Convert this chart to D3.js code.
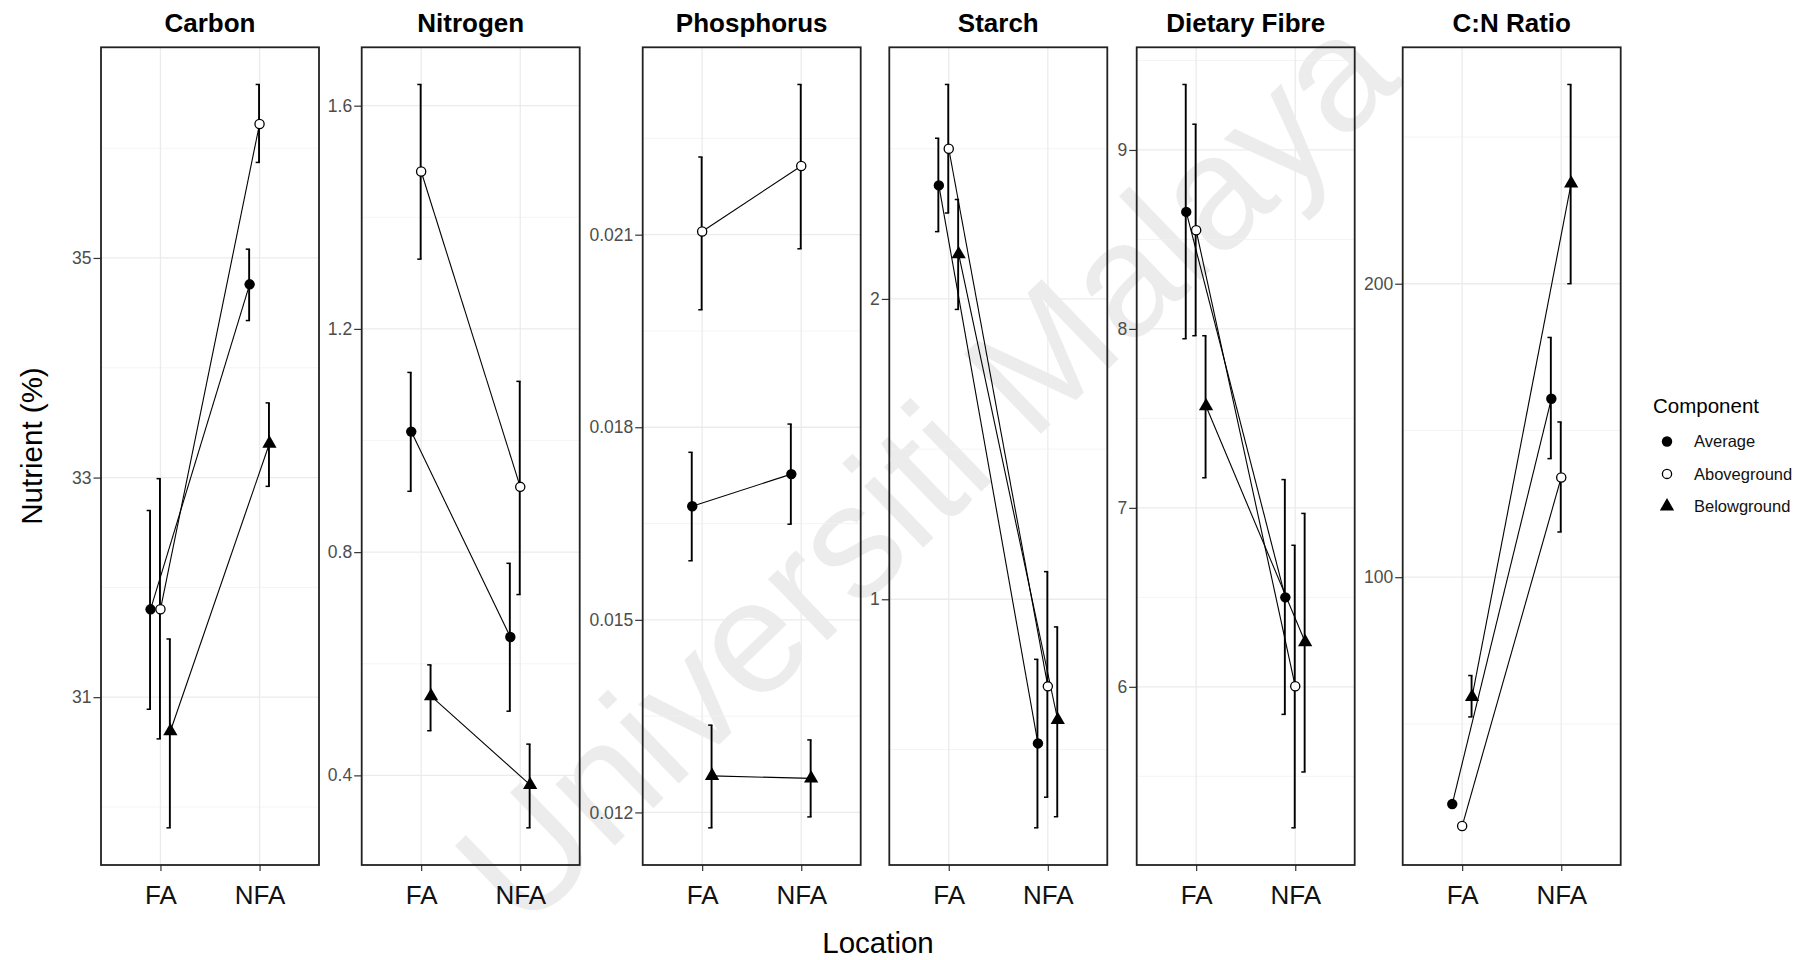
<!DOCTYPE html>
<html>
<head>
<meta charset="utf-8">
<script src="https://cdn.jsdelivr.net/npm/d3@7"></script>
<style>
  body { margin: 0; background: #fff; }
  svg { display: block; }
  text { font-family: "Liberation Sans", Arial, sans-serif; }
</style>
</head>
<body>
<svg id="chart" width="1812" height="960"></svg>
<script>
// ---- data -----------------------------------------------------------------
const nutrients = ["Carbon", "Nitrogen", "Phosphorus", "Starch", "Dietary Fibre", "C:N Ratio"];
const locations = ["FA", "NFA"];
const components = ["Average", "Aboveground", "Belowground"];

// rows: Average, Aboveground, Belowground ; columns: FA, NFA
const carbonMean  = [[31.80, 34.76], [31.80, 36.22], [30.69, 33.31]];
const carbonLower = [[30.89, 34.43], [30.62, 35.87], [29.81, 32.92]];
const carbonUpper = [[32.70, 35.08], [32.99, 36.58], [31.53, 33.68]];

const nitrogenMean  = [[1.016, 0.648], [1.482, 0.917], [0.542, 0.383]];
const nitrogenLower = [[0.909, 0.515], [1.325, 0.724], [0.480, 0.306]];
const nitrogenUpper = [[1.122, 0.780], [1.638, 1.106], [0.598, 0.456]];

const phosphorusMean  = [[0.01677, 0.01727], [0.02105, 0.02207], [0.01257, 0.01253]];
const phosphorusLower = [[0.01592, 0.01649], [0.01983, 0.02078], [0.01176, 0.01193]];
const phosphorusUpper = [[0.01761, 0.01805], [0.02221, 0.02334], [0.01336, 0.01313]];

const starchMean  = [[2.378, 0.520], [2.500, 0.710], [2.149, 0.598]];
const starchLower = [[2.224, 0.239], [2.286, 0.341], [1.965, 0.276]];
const starchUpper = [[2.535, 0.800], [2.714, 1.092], [2.331, 0.908]];

const fibreMean  = [[8.654, 6.500], [8.551, 6.003], [7.568, 6.250]];
const fibreLower = [[7.945, 5.846], [7.962, 5.212], [7.168, 5.524]];
const fibreUpper = [[9.366, 7.158], [9.144, 6.791], [7.962, 6.969]];

const ratioMean  = [[22.7, 160.8], [15.2, 134.0], [59.2, 234.2]];
const ratioLower = [[21.9, 140.4], [14.6, 115.4], [52.4, 200.0]];
const ratioUpper = [[23.5, 181.7], [15.8, 152.9], [66.5, 267.9]];

// y-axis tick labels of each panel
const carbonTicks = ["31", "33", "35"];
const nitrogenTicks = ["0.4", "0.8", "1.2", "1.6"];
const phosphorusTicks = ["0.012", "0.015", "0.018", "0.021"];
const starchTicks = ["1", "2"];
const fibreTicks = ["6", "7", "8", "9"];
const ratioTicks = ["100", "200"];

const panels = [
  { mean: carbonMean, lower: carbonLower, upper: carbonUpper, ticks: carbonTicks },
  { mean: nitrogenMean, lower: nitrogenLower, upper: nitrogenUpper, ticks: nitrogenTicks },
  { mean: phosphorusMean, lower: phosphorusLower, upper: phosphorusUpper, ticks: phosphorusTicks },
  { mean: starchMean, lower: starchLower, upper: starchUpper, ticks: starchTicks },
  { mean: fibreMean, lower: fibreLower, upper: fibreUpper, ticks: fibreTicks },
  { mean: ratioMean, lower: ratioLower, upper: ratioUpper, ticks: ratioTicks }
].map((p, i) => Object.assign(p, { title: nutrients[i] }));

// ---- layout ---------------------------------------------------------------
const W = 1812, H = 960;
const panelLeft = [101, 361.7, 642.7, 889.3, 1136.7, 1402.7];
const panelW = 218;
const panelTop = 47.3, panelBottom = 865;
const dodge = 0.1;          // offset between components, in category steps
const ink = "#000";
const axisGrey = "#4d4d4d";
const fontStack = "'Liberation Sans', Arial, sans-serif";

const svg = d3.select("#chart");
svg.append("rect").attr("width", W).attr("height", H).attr("fill", "#fff");

// repository watermark behind the plot
svg.append("text")
  .attr("transform", "translate(925,468) rotate(-44)")
  .attr("text-anchor", "middle")
  .attr("dominant-baseline", "central")
  .attr("font-size", 161)
  .attr("fill", "#ececec")
  .text("Universiti Malaya");

// symbol for each component
function drawSymbol(sel, c, cx, cy) {
  if (c === 0) {
    sel.append("circle").attr("cx", cx).attr("cy", cy).attr("r", 5.2).attr("fill", ink);
  } else if (c === 1) {
    sel.append("circle").attr("cx", cx).attr("cy", cy).attr("r", 4.6)
      .attr("fill", "#fff").attr("stroke", ink).attr("stroke-width", 1.3);
  } else {
    sel.append("path")
      .attr("d", d3.symbol().type(d3.symbolTriangle).size(88)())
      .attr("transform", `translate(${cx},${cy})`)
      .attr("fill", ink);
  }
}

panels.forEach((p, i) => {
  const x0 = panelLeft[i], x1 = x0 + panelW;
  const x = d3.scalePoint().domain(locations).range([x0, x1]).padding(0.6);
  const step = x.step();
  const all = p.lower.flat().concat(p.upper.flat());
  const ext = d3.extent(all);
  const pad = (ext[1] - ext[0]) * 0.05;
  const y = d3.scaleLinear().domain([ext[0] - pad, ext[1] + pad]).range([panelBottom, panelTop]);

  const tickVals = p.ticks.map(Number);
  const half = (tickVals[1] - tickVals[0]) / 2;
  const minor = [tickVals[0] - half].concat(tickVals.map(v => v + half))
    .filter(v => v > y.domain()[0] && v < y.domain()[1]);

  const g = svg.append("g");

  // grid
  g.selectAll(".minor").data(minor).join("line")
    .attr("x1", x0).attr("x2", x1)
    .attr("y1", d => y(d)).attr("y2", d => y(d))
    .attr("stroke", "#f1f1f1").attr("stroke-width", 0.8);
  g.selectAll(".major").data(tickVals).join("line")
    .attr("x1", x0).attr("x2", x1)
    .attr("y1", d => y(d)).attr("y2", d => y(d))
    .attr("stroke", "#ebebeb").attr("stroke-width", 1.3);
  g.selectAll(".vmajor").data(locations).join("line")
    .attr("x1", d => x(d)).attr("x2", d => x(d))
    .attr("y1", panelTop).attr("y2", panelBottom)
    .attr("stroke", "#ebebeb").attr("stroke-width", 1.3);

  // axes
  const yAxis = d3.axisLeft(y).tickValues(tickVals)
    .tickFormat((d, j) => p.ticks[j]).tickSize(7.5).tickPadding(2);
  const ya = g.append("g").attr("transform", `translate(${x0},0)`).call(yAxis);
  ya.select(".domain").remove();
  ya.selectAll("line").attr("stroke", "#333").attr("stroke-width", 1.2);
  ya.selectAll("text").attr("fill", axisGrey).attr("font-size", 17.5)
    .attr("font-family", fontStack);

  const xAxis = d3.axisBottom(x).tickSize(6).tickPadding(15);
  const xa = g.append("g").attr("transform", `translate(0,${panelBottom})`).call(xAxis);
  xa.select(".domain").remove();
  xa.selectAll("line").attr("stroke", "#333").attr("stroke-width", 1.2);
  xa.selectAll("text").attr("fill", "#111").attr("font-size", 26)
    .attr("font-family", fontStack);

  // connecting lines
  const px = (c, l) => x(locations[l]) + (c - 1) * dodge * step;
  components.forEach((name, c) => {
    g.append("line")
      .attr("x1", px(c, 0)).attr("y1", y(p.mean[c][0]))
      .attr("x2", px(c, 1)).attr("y2", y(p.mean[c][1]))
      .attr("stroke", ink).attr("stroke-width", 1.1);
  });

  // error bars
  components.forEach((name, c) => {
    locations.forEach((loc, l) => {
      const cx = px(c, l) - 0.5;
      const lo = y(p.lower[c][l]), hi = y(p.upper[c][l]);
      g.append("line").attr("x1", cx).attr("x2", cx).attr("y1", lo).attr("y2", hi)
        .attr("stroke", ink).attr("stroke-width", 1.9);
      [lo, hi].forEach(yy => {
        g.append("line").attr("x1", cx - 3.4).attr("x2", cx + 0.9)
          .attr("y1", yy).attr("y2", yy)
          .attr("stroke", ink).attr("stroke-width", 1.5);
      });
    });
  });

  // points
  components.forEach((name, c) => {
    locations.forEach((loc, l) => drawSymbol(g, c, px(c, l), y(p.mean[c][l])));
  });

  // border
  g.append("rect").attr("x", x0).attr("y", panelTop)
    .attr("width", panelW).attr("height", panelBottom - panelTop)
    .attr("fill", "none").attr("stroke", "#222").attr("stroke-width", 1.8);

  // facet title
  g.append("text").attr("x", (x0 + x1) / 2).attr("y", 32)
    .attr("text-anchor", "middle").attr("font-size", 26).attr("font-weight", "bold")
    .attr("fill", "#000").text(p.title);
});

// axis titles
svg.append("text").attr("x", 878).attr("y", 953)
  .attr("text-anchor", "middle").attr("font-size", 29.5).attr("fill", "#000").text("Location");
svg.append("text").attr("transform", "translate(42,446) rotate(-90)")
  .attr("text-anchor", "middle").attr("font-size", 29.5).attr("fill", "#000").text("Nutrient (%)");

// legend
const legend = svg.append("g");
legend.append("text").attr("x", 1653).attr("y", 413)
  .attr("font-size", 20.5).attr("fill", "#000").text("Component");
components.forEach((name, c) => {
  const cy = 441.5 + c * 32.4;
  drawSymbol(legend, c, 1667, cy);
  legend.append("text").attr("x", 1694).attr("y", cy).attr("dy", "0.35em")
    .attr("font-size", 16.5).attr("fill", "#111").text(name);
});
</script>
</body>
</html>
